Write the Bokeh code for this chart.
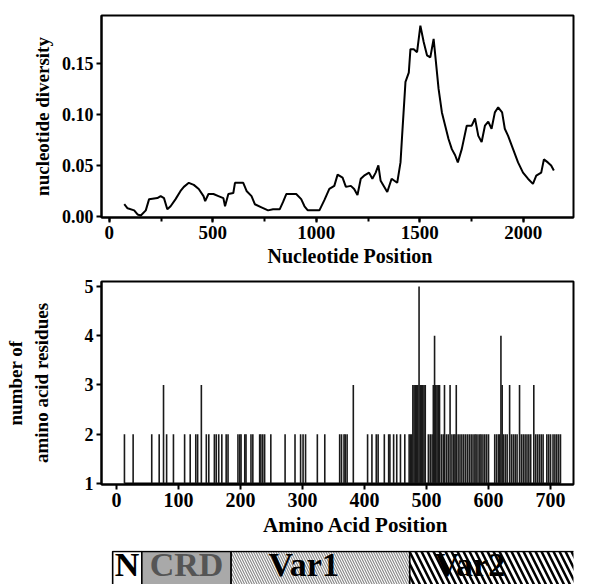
from bokeh.plotting import figure
from bokeh.layouts import column
from bokeh.models import Range1d, SingleIntervalTicker, NumeralTickFormatter, ColumnDataSource
from bokeh.core.properties import value
from bokeh.embed import file_html
from bokeh.resources import INLINE

FONT = "Liberation Serif"

# ---- nucleotide diversity (sliding window) ----
nt_pos = [72, 88, 120, 136, 152, 176, 192, 232, 248, 264, 280, 296, 320, 344, 360, 384, 408, 432, 455, 463,
          479, 503, 527, 551, 559, 575, 599, 607, 647, 663, 687, 703, 735, 767, 791, 823, 839, 855, 903, 927,
          943, 959, 1015, 1039, 1063, 1087, 1103, 1127, 1143, 1167, 1183, 1199, 1215, 1231, 1255, 1271, 1287,
          1300, 1311, 1343, 1364, 1391, 1407, 1415, 1423, 1431, 1447, 1455, 1471, 1487, 1503, 1519, 1535, 1551,
          1567, 1575, 1591, 1607, 1623, 1639, 1655, 1671, 1684, 1703, 1727, 1751, 1767, 1783, 1799, 1815, 1831,
          1847, 1863, 1879, 1898, 1911, 1927, 1951, 1975, 1999, 2023, 2047, 2063, 2087, 2100, 2119, 2135, 2148]
nt_div = [0.012, 0.008, 0.006, 0.002, 0.001, 0.006, 0.017, 0.018, 0.020, 0.018, 0.007, 0.010, 0.017, 0.025,
          0.029, 0.033, 0.031, 0.027, 0.020, 0.015, 0.022, 0.022, 0.020, 0.018, 0.010, 0.022, 0.023, 0.033,
          0.033, 0.025, 0.020, 0.012, 0.009, 0.006, 0.007, 0.007, 0.014, 0.022, 0.022, 0.017, 0.010, 0.006,
          0.006, 0.016, 0.027, 0.030, 0.041, 0.038, 0.029, 0.030, 0.027, 0.021, 0.037, 0.040, 0.043, 0.037,
          0.043, 0.050, 0.035, 0.024, 0.037, 0.033, 0.053, 0.080, 0.106, 0.132, 0.141, 0.164, 0.164, 0.161,
          0.187, 0.171, 0.158, 0.156, 0.174, 0.158, 0.125, 0.102, 0.089, 0.076, 0.066, 0.060, 0.053, 0.066,
          0.089, 0.089, 0.096, 0.079, 0.073, 0.089, 0.093, 0.086, 0.102, 0.107, 0.102, 0.086, 0.079, 0.066,
          0.053, 0.043, 0.037, 0.032, 0.040, 0.043, 0.056, 0.053, 0.050, 0.045]

# ---- amino acid positions, grouped by number of residues ----
aa_h2 = [13, 27, 57, 69, 81, 92, 110, 119, 128, 131, 145, 149, 158, 161, 165, 170, 177, 180, 196, 199, 201,
         207, 209, 217, 220, 231, 233, 236, 239, 249, 272, 288, 297, 301, 305, 324, 336, 360, 363, 367, 369,
         372, 405, 412, 419, 422, 432, 439, 441, 447, 452, 458, 465, 472, 474, 476, 503, 506, 509, 524, 527,
         532, 535, 541, 544, 546, 551, 554, 557, 560, 563, 566, 569, 572, 575, 578, 580, 583, 586, 588, 591,
         594, 597, 600, 610, 613, 616, 618, 624, 627, 630, 637, 640, 643, 646, 653, 656, 659, 662, 665, 668,
         676, 679, 682, 685, 688, 694, 697, 700, 704, 707, 710, 713, 716]
aa_h3 = [76, 137, 382, 478, 480, 482, 484, 486, 490, 492, 494, 496, 498, 511, 515, 517, 519, 521, 529, 538,
         548, 622, 634, 650, 673]
aa_h4 = [513, 620]
aa_h5 = [488]

# ---- domain map ----
dom_names = ["N", "CRD", "Var1", "Var2"]
dom_start = [-6, 41, 185, 473]
dom_end = [41, 185, 473, 770]
dom_label_x = [17, 113, 302, 570]


def style(p, xfs, yfs, xlfs, ylfs):
    p.outline_line_color = "black"
    p.outline_line_width = 2
    p.grid.visible = False
    p.background_fill_color = "white"
    p.border_fill_color = "white"
    for ax in p.axis:
        ax.axis_line_color = "black"
        ax.axis_line_width = 2
        ax.major_tick_line_color = "black"
        ax.major_tick_line_width = 2
        ax.major_tick_out = 5
        ax.major_tick_in = 0
        ax.minor_tick_line_color = "black"
        ax.minor_tick_line_width = 2
        ax.minor_tick_out = 4
        ax.minor_tick_in = 0
        ax.major_label_text_font = FONT
        ax.major_label_text_font_style = "bold"
        ax.major_label_text_color = "black"
        ax.axis_label_text_font = FONT
        ax.axis_label_text_font_style = "bold"
        ax.axis_label_text_color = "black"
        ax.major_label_standoff = 3
    p.xaxis.major_label_text_font_size = xfs
    p.yaxis.major_label_text_font_size = yfs
    p.xaxis.axis_label_text_font_size = xlfs
    p.yaxis.axis_label_text_font_size = ylfs


# ---------------- top panel ----------------
p1 = figure(width=575, height=274, output_backend="svg", toolbar_location=None,
            x_range=Range1d(-38, 2243), y_range=Range1d(-0.001, 0.197),
            min_border_left=99, min_border_right=2, min_border_top=15, min_border_bottom=57)
p1.line(nt_pos, nt_div, line_color="black", line_width=2)
p1.xaxis.ticker = SingleIntervalTicker(interval=500, num_minor_ticks=2)
p1.yaxis.ticker = SingleIntervalTicker(interval=0.05, num_minor_ticks=0)
p1.yaxis.formatter = NumeralTickFormatter(format="0.00")
p1.xaxis.axis_label = "\u00a0\u00a0\u00a0\u00a0\u00a0Nucleotide Position"
p1.yaxis.axis_label = "nucleotide diversity"
style(p1, "19px", "18px", "20px", "19px")
p1.xaxis.axis_label_standoff = 3
p1.yaxis.axis_label_standoff = 6

# ---------------- middle panel ----------------
p2 = figure(width=575, height=270, output_backend="svg", toolbar_location=None,
            x_range=Range1d(-24, 737), y_range=Range1d(0.98, 5.1),
            min_border_left=101, min_border_right=2, min_border_top=7, min_border_bottom=60)
all_aa = aa_h2 + aa_h3 + aa_h4 + aa_h5
p2.segment(x0=[min(all_aa)], y0=[1], x1=[max(all_aa)], y1=[1], line_color="black", line_width=2)
for grp, h in ((aa_h2, 2), (aa_h3, 3), (aa_h4, 4), (aa_h5, 5)):
    p2.segment(x0=grp, y0=[1] * len(grp), x1=grp, y1=[h] * len(grp),
               line_color="#1a1a1a", line_width=1.6)
p2.xaxis.ticker = SingleIntervalTicker(interval=100, num_minor_ticks=0)
p2.yaxis.ticker = SingleIntervalTicker(interval=1, num_minor_ticks=0)
p2.xaxis.axis_label = "\u00a0\u00a0\u00a0\u00a0\u00a0\u00a0\u00a0Amino Acid Position"
p2.yaxis.axis_label = "number of\namino acid residues"
style(p2, "20px", "18px", "21px", "19px")
p2.xaxis.axis_label_standoff = 3
p2.yaxis.axis_label_standoff = 30

# ---------------- domain map ----------------
p3 = figure(width=575, height=40, output_backend="svg", toolbar_location=None,
            x_range=p2.x_range, y_range=Range1d(0, 1),
            x_axis_location=None, y_axis_location=None,
            min_border_left=101, min_border_right=2, min_border_top=6, min_border_bottom=0)
p3.outline_line_color = None
p3.grid.visible = False
src = ColumnDataSource(dict(
    left=dom_start, right=dom_end,
    fill=["white", "#a9a9a9", "white", "white"],
    hatch=[" ", " ", "left_diagonal_line", "left_diagonal_line"],
    hcol=["black", "black", "#8a8a8a", "black"],
    hw=[1, 1, 1.2, 2.5],
    hs=[6, 6, 5, 12],
))
p3.quad(left="left", right="right", bottom=-3, top=0.97, source=src,
        fill_color="fill", hatch_pattern="hatch", hatch_color="hcol",
        hatch_weight="hw", hatch_scale="hs", line_color="black", line_width=1.6)
p3.text(x=dom_label_x, y=[0.97] * len(dom_names), text=dom_names,
        text_font=value(FONT), text_font_style="bold", text_font_size="34px",
        text_align="center", text_baseline="top", y_offset=-6,
        text_color=["black", "#555555", "black", "black"])

layout = column(p1, p2, p3, spacing=0)
open("out.html", "w").write(file_html(layout, INLINE))
